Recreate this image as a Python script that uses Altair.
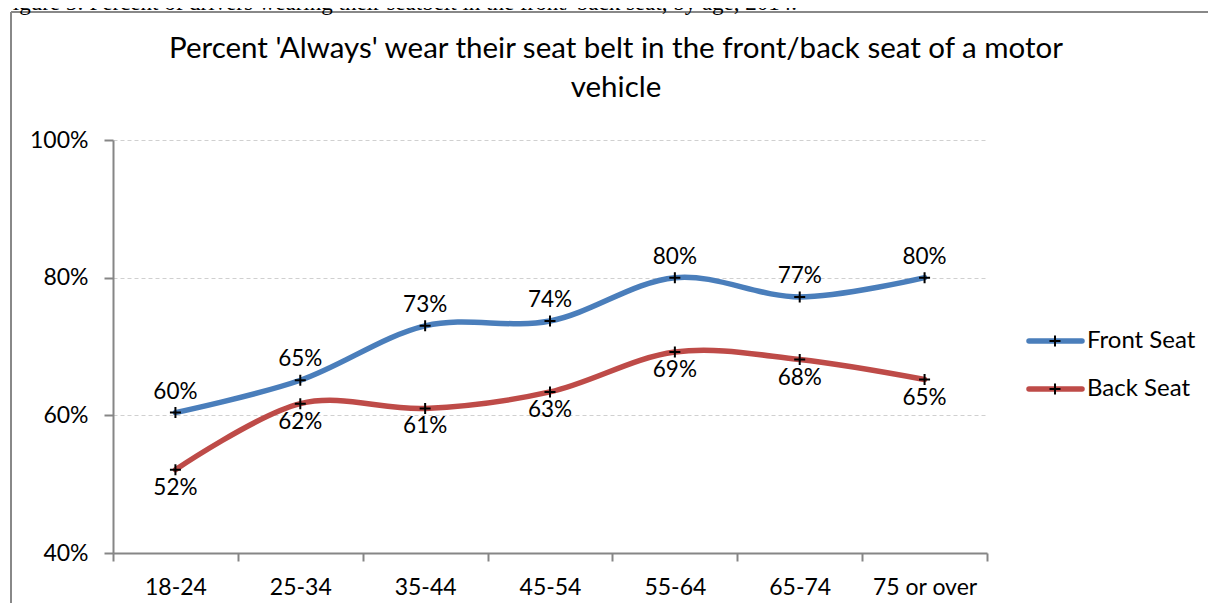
import altair as alt
import pandas as pd

# ---- data ----
ages = ["18-24", "25-34", "35-44", "45-54", "55-64", "65-74", "75 or over"]
front_seat = [60.4, 65.1, 73.0, 73.7, 80.0, 77.2, 80.0]
back_seat = [52.1, 61.7, 61.0, 63.4, 69.2, 68.1, 65.2]
series_names = ["Front Seat", "Back Seat"]
series_colors = ["#4A7EBB", "#BE4B48"]
y_ticks = [40, 60, 80, 100]
title_lines = ["Percent 'Always' wear their seat belt in the front/back seat of a motor", "vehicle"]
caption = "Figure 5: Percent of drivers wearing their seatbelt in the front/ back seat, by age, 2014."

FONT = "Lato"
W, H = 874, 413

rows = []
for name, vals in zip(series_names, [front_seat, back_seat]):
    for a, v in zip(ages, vals):
        rows.append({"age": a, "value": v, "series": name, "label": f"{round(v):d}%"})
df = pd.DataFrame(rows)

color_scale = alt.Scale(domain=series_names, range=series_colors)
x_enc = alt.X(
    "age:N", sort=ages, bandPosition=0.5,
    scale=alt.Scale(type="band", domain=ages, paddingInner=0, paddingOuter=0),
    axis=alt.Axis(title=None, labelAngle=0, tickBand="extent", grid=False,
                  domainColor="#868686", domainWidth=2, tickColor="#868686",
                  tickWidth=2, tickSize=8, labelFont=FONT, labelFontSize=23,
                  labelColor="black", labelPadding=15),
)
y_enc = alt.Y(
    "value:Q",
    scale=alt.Scale(domain=[40, 100], nice=False, zero=False),
    axis=alt.Axis(title=None, values=y_ticks, labelExpr="datum.value + '%'",
                  grid=True, gridDash=[4, 3], gridColor="#D0D0D0", gridWidth=1,
                  domainColor="#868686", domainWidth=2, tickColor="#868686",
                  tickWidth=2, tickSize=9, labelFont=FONT, labelFontSize=23,
                  labelColor="black", labelPadding=16),
)

base = alt.Chart(df).encode(x=x_enc, y=y_enc)

lines = base.mark_line(interpolate="cardinal", strokeWidth=5.5, strokeCap="round").encode(
    color=alt.Color("series:N", scale=color_scale, legend=None)
)
plus = "M-1,0L1,0M0,-1L0,1"
points = base.mark_point(shape=plus, size=121, stroke="black", strokeWidth=2,
                         filled=False, opacity=1)

lab_front = base.transform_filter(alt.datum.series == series_names[0]).mark_text(
    font=FONT, fontSize=22.5, color="black", dy=-14, baseline="alphabetic"
).encode(text="label:N")
lab_back = base.transform_filter(alt.datum.series == series_names[1]).mark_text(
    font=FONT, fontSize=22.5, color="black", dy=25, baseline="alphabetic"
).encode(text="label:N")

one = pd.DataFrame({"k": [0]})

title_layers = []
for i, t in enumerate(title_lines):
    title_layers.append(
        alt.Chart(one).mark_text(font=FONT, fontSize=29.5, color="black", align="center",
                                 baseline="alphabetic", text=t)
        .encode(x=alt.value(503), y=alt.value(-82 + 39 * i))
    )

caption_layer = alt.Chart(one).mark_text(
    font="Liberation Serif", fontSize=23, color="black", align="left",
    baseline="alphabetic", text=caption
).encode(x=alt.value(-113), y=alt.value(-130))

border_left = alt.Chart(one).mark_rule(color="#888888", strokeWidth=2).encode(
    x=alt.value(-102), y=alt.value(-128), y2=alt.value(470))
border_top = alt.Chart(one).mark_rule(color="#888888", strokeWidth=2).encode(
    x=alt.value(-102), x2=alt.value(1110), y=alt.value(-128))

legend_layers = []
for i, name in enumerate(series_names):
    ldf = pd.DataFrame({"series": [name]})
    yy = 201 + 48 * i
    legend_layers.append(
        alt.Chart(ldf).mark_rule(strokeWidth=5.5, strokeCap="round").encode(
            x=alt.value(916), x2=alt.value(969), y=alt.value(yy),
            color=alt.Color("series:N", scale=color_scale, legend=None))
    )
    legend_layers.append(
        alt.Chart(ldf).mark_point(shape=plus, size=121, stroke="black", strokeWidth=2,
                                  filled=False, opacity=1).encode(
            x=alt.value(942), y=alt.value(yy))
    )
    legend_layers.append(
        alt.Chart(ldf).mark_text(font=FONT, fontSize=24, color="black", align="left",
                                 baseline="middle").encode(
            x=alt.value(974), y=alt.value(yy), text="series:N")
    )

chart = alt.layer(
    border_left, border_top, caption_layer, *title_layers,
    lines, points, lab_front, lab_back, *legend_layers
).properties(
    width=W, height=H,
    padding={"left": 105, "top": 132, "right": 221, "bottom": 50},
    autosize=alt.AutoSizeParams(type="none"),
    background="white",
).configure_view(stroke=None)

chart.save("out.html", embed_options={"renderer": "svg", "actions": False})
